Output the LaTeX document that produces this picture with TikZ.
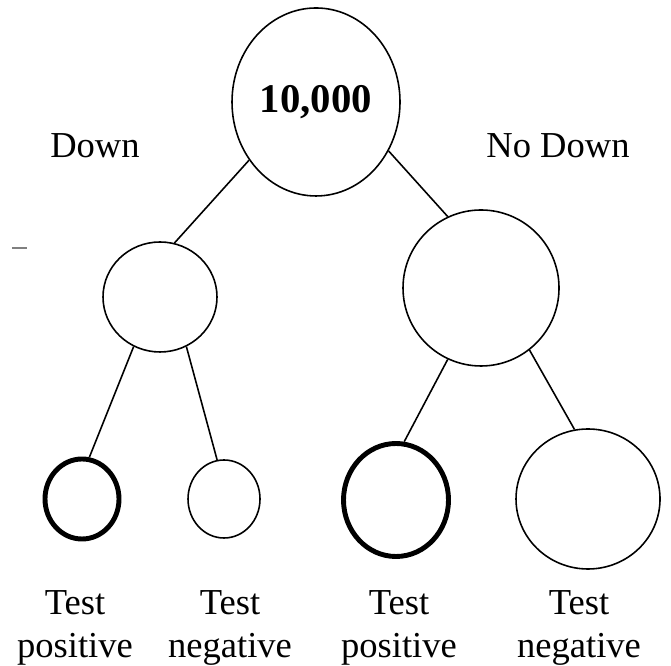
\documentclass[tikz,border=0pt]{standalone}
\usepackage{fontspec}
\setmainfont{Liberation Serif}
\usetikzlibrary{shapes.geometric}

\begin{document}
\begin{tikzpicture}[
    every node/.style={inner sep=0pt},
    pool/.style={draw, ellipse, line width=0.45pt},
    hit/.style={pool, line width=1.4pt},
    lbl/.style={font=\fontsize{10.4}{12.2}\selectfont, align=center}]
     \useasboundingbox (0,0) rectangle (6.71,6.65);
     % circles
     \node[pool, minimum width=1.68cm, minimum height=1.88cm,
           font=\fontsize{11.6}{14}\selectfont\bfseries] (all) at (3.16,5.63) {10,000};
     \node[pool, minimum width=1.14cm, minimum height=1.10cm] (down)   at (1.60,3.68) {};
     \node[pool, minimum width=1.56cm, minimum height=1.56cm] (nodown) at (4.81,3.77) {};
     \node[hit,  minimum width=0.74cm, minimum height=0.80cm] (dpos)   at (0.82,1.66) {};
     \node[pool, minimum width=0.72cm, minimum height=0.78cm] (dneg)   at (2.24,1.66) {};
     \node[hit,  minimum width=1.05cm, minimum height=1.13cm] (npos)   at (3.96,1.65) {};
     \node[pool, minimum width=1.44cm, minimum height=1.40cm] (nneg)   at (5.88,1.66) {};
     % branches
     \draw[line width=0.45pt] (all.221)    -- (down.75);
     \draw[line width=0.45pt] (all.326)    -- (nodown.115);
     \draw[line width=0.45pt] (down.242)   -- (dpos.80);
     \draw[line width=0.45pt] (down.298)   -- (dneg.100);
     \draw[line width=0.45pt] (nodown.245) -- (npos.82);
     \draw[line width=0.45pt] (nodown.308) -- (nneg.101);
     % labels
     \node[lbl] (ldown)   at (0.95,5.19) {Down};
     \node[lbl] (lnodown) at (5.58,5.19) {No Down};
     \node[lbl] (tdpos)   at (0.75,0.37) {Test\\positive};
     \node[lbl] (tdneg)   at (2.30,0.37) {Test\\negative};
     \node[lbl] (tnpos)   at (3.99,0.37) {Test\\positive};
     \node[lbl] (tnneg)   at (5.79,0.37) {Test\\negative};
     % stray mark
     \coordinate (m1) at (0.12,4.17);
     \coordinate (m2) at (0.27,4.17);
     \draw[gray, line width=0.35pt] (m1) -- (m2);
    \end{tikzpicture}
\end{document}
